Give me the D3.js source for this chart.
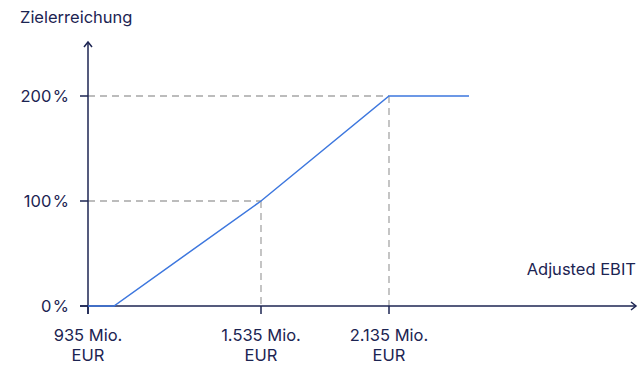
<!DOCTYPE html>
<html><head><meta charset="utf-8">
<script src="https://cdn.jsdelivr.net/npm/d3@7"></script>
<style>body{margin:0;background:#fff}svg{display:block}text{font-family:Inter,"Noto Sans",sans-serif;fill:#1c2452;font-size:16.5px}</style>
</head><body>
<script>
const xTicks = [935, 1535, 2135];
const xTickLabels = [["935 Mio.", "EUR"], ["1.535 Mio.", "EUR"], ["2.135 Mio.", "EUR"]];
const yTicks = [0, 100, 200];
const yTickLabels = ["0\u200a%", "100\u200a%", "200\u200a%"];
const curveX = [935, 1025, 1535, 2135, 2510];
const curveY = [0, 0, 100, 200, 200];
const guideX = [1535, 2135];
const guideY = [100, 200];

const W = 638, H = 365;
const svg = d3.select("body").append("svg").attr("width", W).attr("height", H);
const x = d3.scaleLinear().domain([935, 1535, 2135, 2510]).range([88, 261, 389, 469]);
const y = d3.scaleLinear().domain([0, 200]).range([306, 96]);
const navy = "#1c2452";

// dashed guides
guideX.forEach((v, i) => {
  svg.append("line").attr("x1", x(v)).attr("x2", x(v)).attr("y1", y(guideY[i])).attr("y2", y(0))
    .attr("stroke", "#a6a6a6").attr("stroke-width", 1.3).attr("stroke-dasharray", "7,5");
});
yTicks.filter(v => v > 0).forEach((v, i) => {
  svg.append("line").attr("x1", x(935)).attr("x2", x(guideX[i])).attr("y1", y(v)).attr("y2", y(v))
    .attr("stroke", "#a6a6a6").attr("stroke-width", 1.3).attr("stroke-dasharray", "7,5");
});

// axes
svg.append("line").attr("x1", x(935)).attr("x2", x(935)).attr("y1", y(0) + 8).attr("y2", 42)
  .attr("stroke", navy).attr("stroke-width", 1.5);
svg.append("path").attr("d", `M${x(935) - 4},${47} L${x(935)},${42} L${x(935) + 4},${47}`)
  .attr("fill", "none").attr("stroke", navy).attr("stroke-width", 1.5);
svg.append("line").attr("x1", 80).attr("x2", 636).attr("y1", y(0)).attr("y2", y(0))
  .attr("stroke", navy).attr("stroke-width", 1.5);
svg.append("path").attr("d", `M631,${y(0) - 4} L636,${y(0)} L631,${y(0) + 4}`)
  .attr("fill", "none").attr("stroke", navy).attr("stroke-width", 1.5);

// y ticks
yTicks.forEach((v, i) => {
  svg.append("line").attr("x1", 80).attr("x2", x(935)).attr("y1", y(v)).attr("y2", y(v))
    .attr("stroke", navy).attr("stroke-width", 1.5);
  svg.append("text").attr("x", 69).attr("y", y(v) + 6).attr("text-anchor", "end").text(yTickLabels[i]);
});
// x ticks
xTicks.forEach((v, i) => {
  svg.append("line").attr("x1", x(v)).attr("x2", x(v)).attr("y1", y(0)).attr("y2", y(0) + 8)
    .attr("stroke", navy).attr("stroke-width", 1.5);
  const t = svg.append("text").attr("text-anchor", "middle");
  xTickLabels[i].forEach((s, j) => t.append("tspan").attr("x", x(v)).attr("y", 341 + j * 20).text(s));
});

// curve (on top of axes)
svg.append("path").datum(curveX.map((v, i) => [v, curveY[i]]))
  .attr("d", d3.line().x(d => x(d[0])).y(d => y(d[1])))
  .attr("fill", "none").attr("stroke", "#3d77de").attr("stroke-width", 1.5);

svg.append("text").attr("x", 20).attr("y", 23).text("Zielerreichung");
svg.append("text").attr("x", 636).attr("y", 275).attr("text-anchor", "end").text("Adjusted EBIT");
</script>
</body></html>
